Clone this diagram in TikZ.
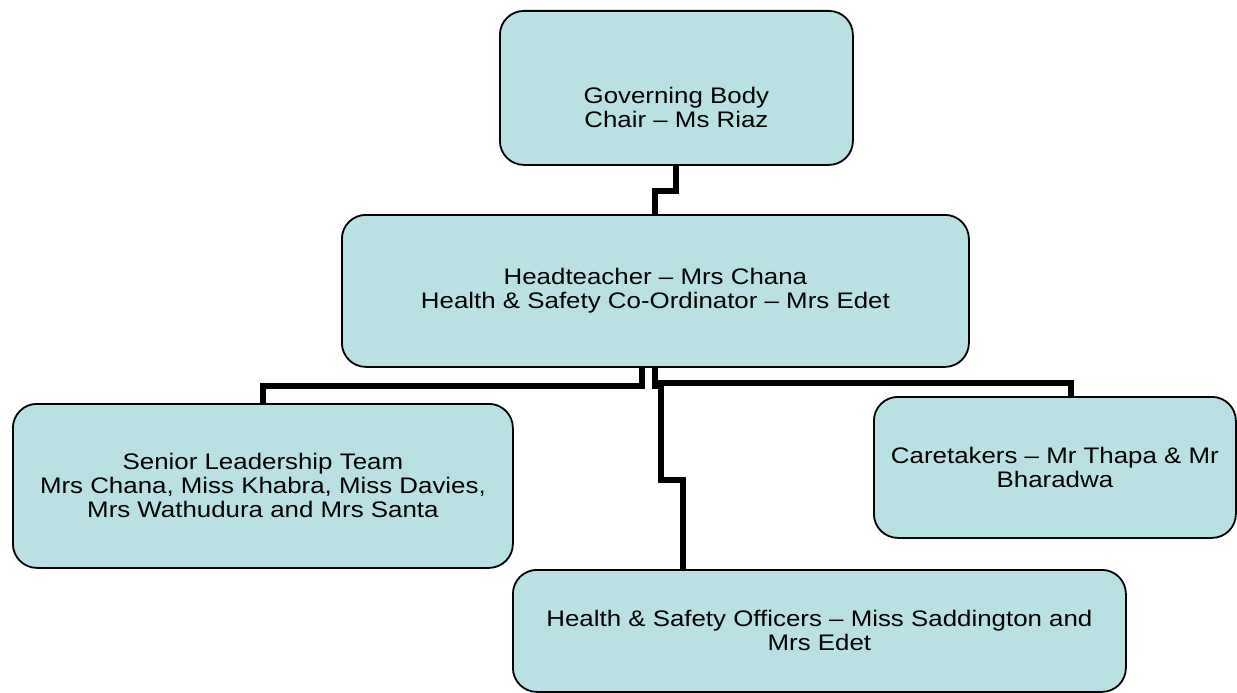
\documentclass[tikz,border=0pt]{standalone}
\usepackage{fontspec}
\setmainfont{Liberation Sans}[FakeStretch=1.15]
\definecolor{boxfill}{RGB}{185,224,227}
\begin{document}
\begin{tikzpicture}[x=1pt,y=-1pt,
base/.style={%
font={\color{black}\fontsize{22.5pt}{24pt}\selectfont},
draw,
line width=1.8pt,
fill=boxfill,
rounded corners=24pt,
align=center,
inner sep=0pt,
anchor=north west,
},
link/.style={%
draw,
line width=6pt,
},
]
\useasboundingbox (0,0) rectangle (1237,693);

%Governing body
\node[base,minimum width=353pt,minimum height=154pt](gov)at(499,10)
  {\rule{0pt}{56pt}Governing Body\\Chair -- Ms Riaz};

%Headteacher
\node[base,minimum width=627pt,minimum height=152pt](head)at(341,214)
  {Headteacher -- Mrs Chana\\Health \& Safety Co-Ordinator -- Mrs Edet};

%Staff
\node[base,minimum width=500pt,minimum height=164pt](slt)at(12,403)
  {Senior Leadership Team\\Mrs Chana, Miss Khabra, Miss Davies,\\Mrs Wathudura and Mrs Santa};
\node[base,minimum width=362pt,minimum height=141pt](care)at(873,396)
  {Caretakers -- Mr Thapa \& Mr\\Bharadwa};
\node[base,minimum width=613pt,minimum height=122pt](hso)at(512,569)
  {Health \& Safety Officers -- Miss Saddington and\\Mrs Edet};

%links
\draw[link](gov.south)--++(0,25)-|(head.north);
\draw[link]([xshift=-13pt]head.south)--++(0,18)-|(slt.north);
\draw[link](head.south)--++(0,15)-|([xshift=16pt]care.north);
\draw[link](head.south)--++(0,18)--++(5.5,0)--++(0,94)-|([xshift=-136.5pt]hso.north);
\end{tikzpicture}
\end{document}
